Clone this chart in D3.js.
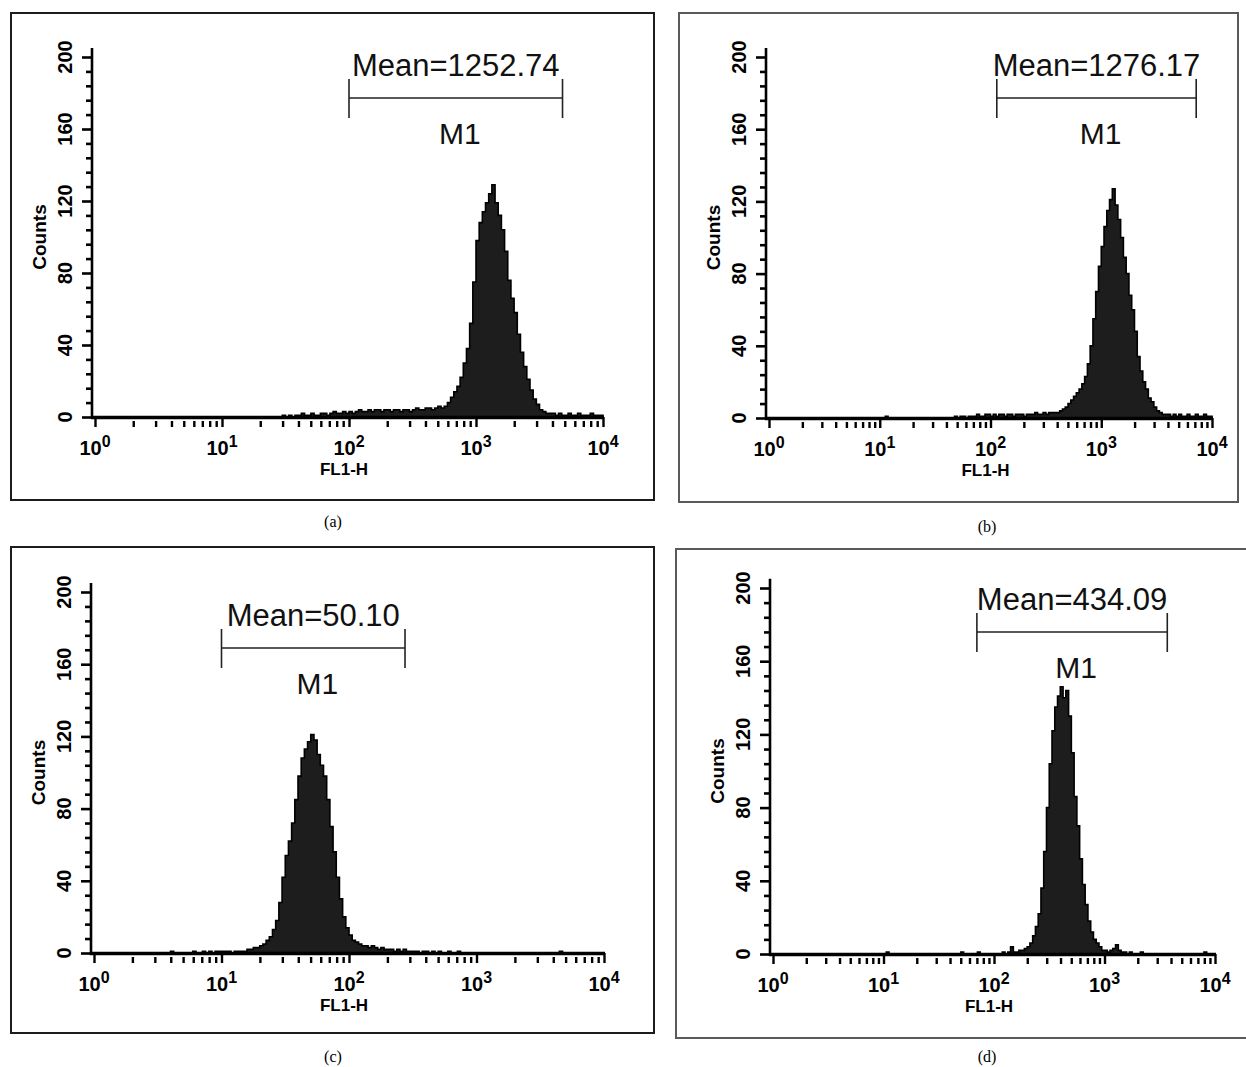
<!DOCTYPE html>
<html><head><meta charset="utf-8">
<script src="https://cdn.jsdelivr.net/npm/d3@7"></script>
<style>body{margin:0;background:#fff}svg{display:block}</style>
</head><body>
<svg id="chart" width="1246" height="1067"></svg>
<script>
// log10 position of each histogram channel (bin grid, 0.025 decade per channel)
const binLog = d3.range(160).map(i => i * 0.025);

// counts per channel
const countsA = [
  0,0,0,0,0,0,0,0,0,0, 0,0,0,0,0,0,0,0,0,0, 0,0,0,0,0,0,0,0,0,0, 0,0,0,0,0,0,0,0,0,0,
  0,0,0,0,0,0,0,0,0,0, 0,0,0,0,0,0,0,0,0,1, 0,1,0,1,1,2,1,1,2,1, 1,2,2,1,2,3,2,2,3,2,
  3,2,3,4,3,3,4,3,4,4, 3,4,4,3,4,4,3,4,4,3, 4,5,4,4,5,5,4,5,6,5, 6,8,11,14,17,22,30,38,52,75,
  98,108,114,119,124,129,119,112,104,92, 76,66,58,46,36,28,21,15,10,7, 4,3,2,2,2,1,2,1,1,2, 1,1,2,1,1,1,2,1,1,1
];
const countsB = [
  0,0,0,0,0,0,0,0,0,0, 0,0,0,0,0,0,0,0,0,0, 0,0,0,0,0,0,0,0,0,0, 0,0,0,0,0,0,0,0,0,0,
  0,0,1,0,0,0,0,0,0,0, 0,0,0,0,0,0,0,0,0,0, 0,0,0,0,0,0,0,1,0,1, 1,0,1,1,1,2,1,1,2,2,
  1,2,1,2,2,1,2,2,1,2, 2,2,1,2,2,2,3,2,2,3, 2,3,3,3,3,4,5,6,8,10, 12,14,16,19,23,30,40,55,70,84,
  95,106,115,121,127,118,110,100,89,80, 68,60,48,34,26,20,16,11,9,6, 4,3,2,2,2,1,2,1,2,1, 1,2,1,1,2,1,1,2,1,1
];
const countsC = [
  0,0,0,0,0,0,0,0,0,0, 0,0,0,0,0,0,0,0,0,0, 0,0,0,0,1,0,0,0,0,0, 0,1,0,0,1,0,1,0,1,1,
  1,1,1,0,1,1,1,1,2,2, 3,3,4,5,7,9,13,18,28,42, 54,62,72,85,98,108,113,117,121,118, 110,104,98,85,70,56,42,30,20,14,
  10,7,6,5,4,4,3,4,3,2, 3,2,2,2,1,2,1,2,1,1, 1,1,0,1,1,0,1,0,1,0, 0,1,0,0,1,0,0,0,0,0,
  0,0,0,0,0,0,0,0,0,0, 0,0,0,0,0,0,0,0,0,0, 0,0,0,0,0,0,1,0,0,0, 0,0,0,0,0,0,0,0,0,0
];
const countsD = [
  0,0,0,0,0,0,0,0,0,0, 0,0,0,0,0,0,0,0,0,0, 0,0,0,0,0,0,0,0,0,0, 0,0,0,0,0,0,0,0,0,0,
  0,1,0,0,0,0,0,0,0,0, 0,0,0,0,0,0,0,0,0,0, 0,0,0,0,0,0,0,0,1,0, 0,0,0,0,1,0,0,0,0,0,
  0,0,0,1,0,1,4,1,1,2, 2,3,4,6,10,15,22,36,56,80, 104,122,135,141,146,140,144,130,110,86, 70,52,38,27,18,12,8,6,4,2,
  2,1,2,3,5,2,1,1,0,1, 0,0,0,1,0,0,0,0,0,0, 0,0,0,0,0,0,0,0,0,0, 0,0,0,0,0,0,1,0,0,0
];

const panelCaptions = ["(a)", "(b)", "(c)", "(d)"];
const meanLabels = ["Mean=1252.74", "Mean=1276.17", "Mean=50.10", "Mean=434.09"];
const gateRanges = [[100, 4800], [114, 7200], [10, 275], [70, 3700]];
const gateName = "M1";
const yTickValues = [0, 40, 80, 120, 160, 200];
const yMinorStep = 8;
const xDecades = [1, 10, 100, 1000, 10000];
const xExponents = ["0", "1", "2", "3", "4"];
const xTitle = "FL1-H";
const yTitle = "Counts";

const allCounts = [countsA, countsB, countsC, countsD];

// layout (pixels)
const layout = [
  {frame: [11, 13, 654, 500], frameColor: "#1c1c1c", x0: 95, x1: 603, y0: 417, yTop: 57, gateY: 98, cap: [333, 527]},
  {frame: [679, 13, 1238, 502], frameColor: "#5a5a5a", x0: 769, x1: 1212, y0: 418, yTop: 57, gateY: 98, cap: [987, 532]},
  {frame: [11, 547, 654, 1033], frameColor: "#1c1c1c", x0: 94, x1: 604, y0: 953, yTop: 592, gateY: 648, cap: [333, 1062]},
  {frame: [676, 549, 1252, 1038], frameColor: "#5a5a5a", x0: 773, x1: 1215, y0: 954, yTop: 588, gateY: 632, cap: [987, 1062]}
];

const svg = d3.select("#chart");
const sans = "'Liberation Sans', Arial, Helvetica, sans-serif";

layout.forEach((L, p) => {
  const g = svg.append("g");
  const counts = allCounts[p];
  const x = d3.scaleLog().domain([xDecades[0], xDecades[xDecades.length - 1]]).range([L.x0, L.x1]);
  const y = d3.scaleLinear().domain([0, 200]).range([L.y0, L.yTop]);
  const ax = L.x0 - 3;

  // frame
  g.append("rect")
    .attr("x", L.frame[0]).attr("y", L.frame[1])
    .attr("width", L.frame[2] - L.frame[0]).attr("height", L.frame[3] - L.frame[1])
    .attr("fill", "none").attr("stroke", L.frameColor).attr("stroke-width", 2);

  // histogram
  const pts = binLog.map((b, i) => [Math.pow(10, b), counts[i]]);
  pts.push([xDecades[xDecades.length - 1], counts[counts.length - 1]]);
  const area = d3.area()
    .x(d => x(d[0])).y0(y(0)).y1(d => y(d[1]))
    .curve(d3.curveStepAfter);
  g.append("path").datum(pts).attr("d", area)
    .attr("fill", "#1d1d1d").attr("stroke", "#000").attr("stroke-width", 1.6)
    .attr("stroke-linejoin", "miter");

  // y axis
  const yAll = d3.range(0, 201, yMinorStep);
  const yAxis = d3.axisLeft(y).tickValues(yAll).tickSize(6).tickFormat("");
  g.append("g").attr("transform", `translate(${ax},0)`).call(yAxis)
    .call(s => {
      s.select(".domain").remove();
      s.selectAll(".tick line")
        .attr("x2", d => yTickValues.includes(d) ? -10 : -6)
        .attr("stroke", "#000").attr("stroke-width", 2.6);
    });
  g.append("line").attr("x1", ax).attr("x2", ax)
    .attr("y1", y(0) + 2).attr("y2", y(205))
    .attr("stroke", "#000").attr("stroke-width", 2.6);
  yTickValues.forEach(v => {
    g.append("text")
      .attr("transform", `translate(${ax - 20},${y(v)}) rotate(-90)`)
      .attr("text-anchor", "middle")
      .attr("font-family", sans).attr("font-weight", "bold").attr("font-size", 20)
      .text(v);
  });
  g.append("text")
    .attr("transform", `translate(${ax - 46},${y(100)}) rotate(-90)`)
    .attr("text-anchor", "middle")
    .attr("font-family", sans).attr("font-weight", "bold").attr("font-size", 19)
    .text(yTitle);

  // x axis
  const xt = [];
  xDecades.slice(0, -1).forEach(dec => d3.range(1, 10).forEach(m => xt.push(dec * m)));
  xt.push(xDecades[xDecades.length - 1]);
  const xAxis = d3.axisBottom(x).tickValues(xt).tickSize(9).tickFormat("");
  g.append("g").attr("transform", `translate(0,${L.y0})`).call(xAxis)
    .call(s => {
      s.select(".domain").remove();
      s.selectAll(".tick line")
        .attr("y1", d => xDecades.includes(d) ? 0 : 4)
        .attr("y2", 10)
        .attr("stroke", "#000").attr("stroke-width", 2.4);
    });
  g.append("line").attr("x1", ax - 1).attr("x2", L.x1 + 1)
    .attr("y1", L.y0 + 0.5).attr("y2", L.y0 + 0.5)
    .attr("stroke", "#000").attr("stroke-width", 3.5);

  xDecades.forEach((dec, k) => {
    const t = g.append("text")
      .attr("x", x(dec)).attr("y", L.y0 + 38)
      .attr("text-anchor", "middle")
      .attr("font-family", sans).attr("font-weight", "bold").attr("font-size", 20);
    t.append("tspan").text("10");
    t.append("tspan").attr("dy", -8).attr("font-size", 16).text(xExponents[k]);
  });
  g.append("text")
    .attr("x", (L.x0 + L.x1) / 2 - 5).attr("y", L.y0 + 58)
    .attr("text-anchor", "middle")
    .attr("font-family", sans).attr("font-weight", "bold").attr("font-size", 17)
    .text(xTitle);

  // gate marker
  const gx0 = x(gateRanges[p][0]), gx1 = x(gateRanges[p][1]);
  const gc = (gx0 + gx1) / 2;
  const gate = g.append("g").attr("stroke", "#222").attr("stroke-width", 1.6);
  gate.append("line").attr("x1", gx0).attr("x2", gx1).attr("y1", L.gateY).attr("y2", L.gateY);
  gate.append("line").attr("x1", gx0).attr("x2", gx0).attr("y1", L.gateY - 19).attr("y2", L.gateY + 20);
  gate.append("line").attr("x1", gx1).attr("x2", gx1).attr("y1", L.gateY - 19).attr("y2", L.gateY + 20);
  g.append("text").attr("x", gc).attr("y", L.gateY - 22)
    .attr("text-anchor", "middle").attr("font-family", sans).attr("font-size", 31)
    .attr("fill", "#111").text(meanLabels[p]);
  g.append("text").attr("x", gc + 4).attr("y", L.gateY + 46)
    .attr("text-anchor", "middle").attr("font-family", sans).attr("font-size", 30)
    .attr("fill", "#111").text(gateName);

  // caption
  svg.append("text").attr("x", L.cap[0]).attr("y", L.cap[1])
    .attr("text-anchor", "middle")
    .attr("font-family", "'Liberation Serif', 'Times New Roman', serif").attr("font-size", 16)
    .text(panelCaptions[p]);
});
</script>
</body></html>
